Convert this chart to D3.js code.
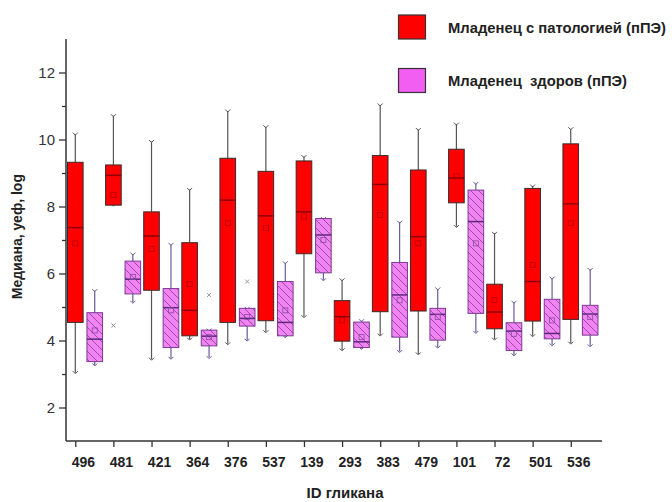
<!DOCTYPE html>
<html>
<head>
<meta charset="utf-8">
<script src="https://cdn.jsdelivr.net/npm/d3@7"></script>
<style>
  html, body { margin: 0; padding: 0; background: #fff; }
  svg { display: block; font-family: "Liberation Sans", Arial, sans-serif; }
  .legend-label { white-space: pre; }
</style>
</head>
<body>
<svg id="chart" width="672" height="502"></svg>
<script>
// Glycan IDs on the x axis
const glycanIds = ["496", "481", "421", "364", "376", "537", "139", "293", "383", "479", "101", "72", "501", "536"];

// Infants with pathology (red boxes)
const sickMax    = [10.16, 10.71, 9.94, 8.51, 10.85, 10.38, 9.49, 5.81, 11.03, 10.30, 10.46, 7.20, 8.61, 10.32];
const sickQ3     = [9.32, 9.24, 7.84, 6.92, 9.44, 9.05, 9.36, 5.19, 9.52, 9.09, 9.71, 5.68, 8.54, 9.87];
const sickMedian = [7.37, 8.93, 7.12, 4.90, 8.19, 7.72, 7.84, 4.71, 8.66, 7.10, 8.85, 4.85, 5.76, 8.08];
const sickMean   = [6.90, 8.34, 6.73, 5.68, 7.50, 7.36, 7.70, 4.60, 7.75, 6.90, 8.90, 5.20, 6.25, 7.50];
const sickQ1     = [4.54, 8.04, 5.50, 4.14, 4.54, 4.59, 6.59, 3.98, 4.86, 4.88, 8.11, 4.35, 4.58, 4.63];
const sickMin    = [3.04, 8.04, 3.44, 4.04, 3.90, 4.26, 4.71, 3.72, 4.16, 3.60, 7.40, 4.04, 4.14, 3.92];
const sickOutliers = [{ i: 1, v: 4.45 }];

// Healthy infants (hatched pink boxes)
const healthyMax    = [5.49, 6.58, 6.87, 4.31, 4.96, 6.32, 7.64, 4.59, 7.53, 5.54, 8.69, 5.14, 5.86, 6.12];
const healthyQ3     = [4.83, 6.37, 5.55, 4.31, 4.96, 5.76, 7.64, 4.55, 6.33, 4.96, 8.49, 4.53, 5.23, 5.05];
const healthyMedian = [4.04, 5.83, 4.98, 4.13, 4.66, 4.54, 7.15, 3.96, 5.36, 4.78, 7.55, 4.28, 4.21, 4.79];
const healthyMean   = [4.30, 5.90, 4.90, 4.10, 4.70, 4.90, 7.00, 4.10, 5.20, 4.70, 6.90, 4.20, 4.60, 4.70];
const healthyQ1     = [3.37, 5.39, 3.79, 3.84, 4.43, 4.14, 6.02, 3.79, 4.10, 4.01, 4.81, 3.70, 4.05, 4.16];
const healthyMin    = [3.27, 5.14, 3.47, 3.49, 4.01, 4.11, 5.81, 3.76, 3.67, 3.80, 4.24, 3.57, 3.87, 3.84];
const healthyOutliers = [{ i: 3, v: 5.36 }, { i: 4, v: 5.76 }];

const yTicks = [2, 4, 6, 8, 10, 12];
const yMinorTicks = [3, 5, 7, 9, 11];
const legendLabels = ["Младенец с патологией (пПЭ)", "Младенец  здоров (пПЭ)"];

const svg = d3.select("#chart");

const x = d3.scaleLinear().domain([0.756, 14.82]).range([66, 602]);
const y = d3.scaleLinear().domain([1, 13]).range([441, 39]);

const boxW = x(1.41) - x(1);      // box width in px
const pinkShift = 0.51;            // healthy box offset in category units

// hatch pattern for the healthy boxes
const defs = svg.append("defs");
const pat = defs.append("pattern")
  .attr("id", "hatch")
  .attr("patternUnits", "userSpaceOnUse")
  .attr("width", 8).attr("height", 8);
pat.append("rect").attr("width", 8).attr("height", 8).attr("fill", "#f084f0");
pat.append("path")
  .attr("d", "M-2,-2 L10,10 M-2,6 L2,10 M6,-2 L10,2")
  .attr("stroke", "#a546b5").attr("stroke-width", 1);

// axes
const axisColor = "#333";
const yAxis = svg.append("g")
  .attr("transform", "translate(66,0)")
  .call(d3.axisLeft(y).tickValues(yTicks).tickSize(7).tickPadding(4).tickFormat(d3.format("d")));
yAxis.select(".domain").attr("d", `M0,${y(13)}V${y(1)}`);
yAxis.selectAll(".tick text").attr("font-size", 15).attr("fill", "#333");
svg.append("g")
  .attr("transform", "translate(66,0)")
  .call(d3.axisLeft(y).tickValues(yMinorTicks).tickSize(4).tickFormat(""))
  .select(".domain").remove();

const xAxis = svg.append("g")
  .attr("transform", `translate(0,${y(1)})`)
  .call(d3.axisBottom(x).tickValues(d3.range(1, glycanIds.length + 1)).tickSize(6).tickPadding(10)
    .tickFormat(d => glycanIds[d - 1]));
xAxis.select(".domain").attr("d", `M66,0H602`);
xAxis.selectAll(".tick text")
  .attr("font-size", 14).attr("font-weight", "bold").attr("fill", "#222")
  .attr("dx", 7.5);

svg.selectAll(".domain").attr("stroke", axisColor).attr("stroke-width", 1.5);
svg.selectAll(".tick line").attr("stroke", axisColor).attr("stroke-width", 1.3);

// draws one series of boxes
function drawSeries(opts) {
  const g = svg.append("g");
  const cx = i => x(i + 1 + opts.shift);
  glycanIds.forEach((id, i) => {
    const c = cx(i);
    // whiskers
    g.append("line").attr("x1", c).attr("x2", c)
      .attr("y1", y(opts.max[i])).attr("y2", y(opts.q3[i]))
      .attr("stroke", opts.whisker).attr("stroke-width", 1.2);
    g.append("line").attr("x1", c).attr("x2", c)
      .attr("y1", y(opts.q1[i])).attr("y2", y(opts.min[i]))
      .attr("stroke", opts.whisker).attr("stroke-width", 1.2);
    // whisker end marks
    [opts.max[i], opts.min[i]].forEach(v => {
      g.append("path")
        .attr("d", `M${c - 2.5},${y(v) - 1.5}L${c},${y(v) + 1}L${c + 2.5},${y(v) - 1.5}`)
        .attr("fill", "none").attr("stroke", opts.whisker).attr("stroke-width", 1);
    });
    // box
    g.append("rect")
      .attr("x", c - boxW / 2).attr("width", boxW)
      .attr("y", y(opts.q3[i])).attr("height", y(opts.q1[i]) - y(opts.q3[i]))
      .attr("fill", opts.fill).attr("stroke", opts.stroke).attr("stroke-width", 1);
    // median
    g.append("line")
      .attr("x1", c - boxW / 2).attr("x2", c + boxW / 2)
      .attr("y1", y(opts.median[i])).attr("y2", y(opts.median[i]))
      .attr("stroke", opts.medianColor).attr("stroke-width", 1.5);
    // mean marker
    g.append("rect")
      .attr("x", c - 2.5).attr("y", y(opts.mean[i]) - 2.5)
      .attr("width", 5).attr("height", 5)
      .attr("fill", "none").attr("stroke", opts.meanColor).attr("stroke-width", 0.8);
  });
  opts.outliers.forEach(o => {
    const c = cx(o.i), yy = y(o.v);
    g.append("path")
      .attr("d", `M${c - 2},${yy - 2}L${c + 2},${yy + 2}M${c - 2},${yy + 2}L${c + 2},${yy - 2}`)
      .attr("stroke", opts.outlierColor).attr("stroke-width", 1);
  });
}

drawSeries({
  shift: 0, max: sickMax, q3: sickQ3, median: sickMedian, mean: sickMean, q1: sickQ1, min: sickMin,
  outliers: sickOutliers, fill: "#ff0000", stroke: "#3a2a2a", whisker: "#555",
  medianColor: "#8a0000", meanColor: "#b30000", outlierColor: "#888"
});
drawSeries({
  shift: pinkShift, max: healthyMax, q3: healthyQ3, median: healthyMedian, mean: healthyMean, q1: healthyQ1, min: healthyMin,
  outliers: healthyOutliers, fill: "url(#hatch)", stroke: "#7a3a92", whisker: "#6a5a9a",
  medianColor: "#5a2a78", meanColor: "#8a4aa0", outlierColor: "#999"
});

// axis titles
svg.append("text")
  .attr("transform", `translate(22,${y(7.1)}) rotate(-90)`)
  .attr("text-anchor", "middle")
  .attr("font-size", 14).attr("font-weight", "bold").attr("fill", "#222")
  .text("Медиана, уеф, log");
svg.append("text")
  .attr("x", 345).attr("y", 498)
  .attr("text-anchor", "middle")
  .attr("font-size", 15).attr("font-weight", "bold").attr("fill", "#222")
  .text("ID гликана");

// legend
const legend = svg.append("g");
const legendFills = ["#ff0000", "#f25ef2"];
const legendWidths = [218, 179];
legendLabels.forEach((label, k) => {
  const top = 15 + k * 53.5;
  legend.append("rect")
    .attr("x", 398.5).attr("y", top).attr("width", 27).attr("height", 24)
    .attr("fill", legendFills[k]).attr("stroke", "#333").attr("stroke-width", 1.2);
  legend.append("text")
    .attr("class", "legend-label")
    .attr("x", 448).attr("y", top + 17.5)
    .attr("font-size", 15).attr("font-weight", "bold").attr("fill", "#222")
    .attr("textLength", legendWidths[k]).attr("lengthAdjust", "spacingAndGlyphs")
    .text(label);
});
</script>
</body>
</html>
